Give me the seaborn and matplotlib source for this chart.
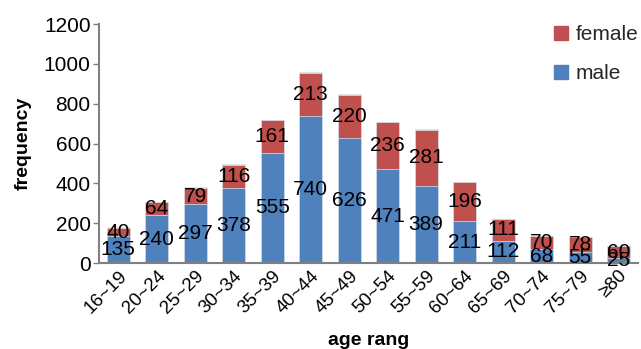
import matplotlib
matplotlib.use("Agg")
import matplotlib.pyplot as plt
from matplotlib.patches import Patch
import numpy as np
import pandas as pd
import seaborn as sns

sns.set_theme(style="white")
plt.rcParams["font.family"] = ["Liberation Sans", "DejaVu Sans"]

age_groups = ["16~19", "20~24", "25~29", "30~34", "35~39", "40~44", "45~49",
              "50~54", "55~59", "60~64", "65~69", "70~74", "75~79", "≥80"]
male = [135, 240, 297, 378, 555, 740, 626, 471, 389, 211, 112, 68, 55, 25]
female = [40, 64, 79, 116, 161, 213, 220, 236, 281, 196, 111, 70, 78, 60]
other = [4, 4, 5, 3, 4, 5, 3, 3, 3, 0, 0, 0, 0, 0]

BLUE = "#4f81bd"
RED = "#c0504d"
GREEN = "#c3d69b"

df = pd.DataFrame({"age": age_groups, "male": male, "female": female, "other": other})
df["mf"] = df["male"] + df["female"]
df["total"] = df["mf"] + df["other"]

fig = plt.figure(figsize=(6.41, 3.49), dpi=100)
ax = fig.add_axes([0.1545, 0.2464, 0.8405, 0.6846])

w = 0.6
edge = dict(edgecolor="#dce6f2", linewidth=0.5)
sns.barplot(data=df, x="age", y="total", color=GREEN, width=w, saturation=1, ax=ax, **edge)
sns.barplot(data=df, x="age", y="mf", color=RED, width=w, saturation=1, ax=ax, **edge)
sns.barplot(data=df, x="age", y="male", color=BLUE, width=w, saturation=1, ax=ax, **edge)

for i, (m, f) in enumerate(zip(male, female)):
    ax.text(i, m / 2, str(m), ha="center", va="center", fontsize=15, color="black")
    ax.text(i, m + f / 2, str(f), ha="center", va="center", fontsize=15, color="black")

ax.set_ylim(0, 1200)
ax.set_xlim(-0.5, len(age_groups) - 0.5)
ax.set_yticks(range(0, 1201, 200))
ax.tick_params(axis="y", labelsize=15, length=4, width=1, color="#808080",
               labelcolor="black", direction="out", left=True, pad=2)
ax.tick_params(axis="x", labelsize=13.5, length=0, pad=3, labelcolor="black")
plt.setp(ax.get_xticklabels(), rotation=45, ha="right", rotation_mode="anchor")

for side in ["top", "right"]:
    ax.spines[side].set_visible(False)
for side in ["left", "bottom"]:
    ax.spines[side].set_color("#808080")
    ax.spines[side].set_linewidth(1.5)

ax.set_ylabel("frequency", fontsize=14, fontweight="bold", labelpad=9, color="black")
ax.set_xlabel("age rang", fontsize=14, fontweight="bold", labelpad=11, color="black")

handles = [Patch(color=RED, label="female"), Patch(color=BLUE, label="male")]
ax.legend(handles=handles, loc="upper right", bbox_to_anchor=(1.016, 1.03),
          frameon=False, fontsize=15, handlelength=0.65, handleheight=0.65,
          handletextpad=0.35, labelspacing=0.95, borderaxespad=0)

fig.savefig("out.png", dpi=100)
